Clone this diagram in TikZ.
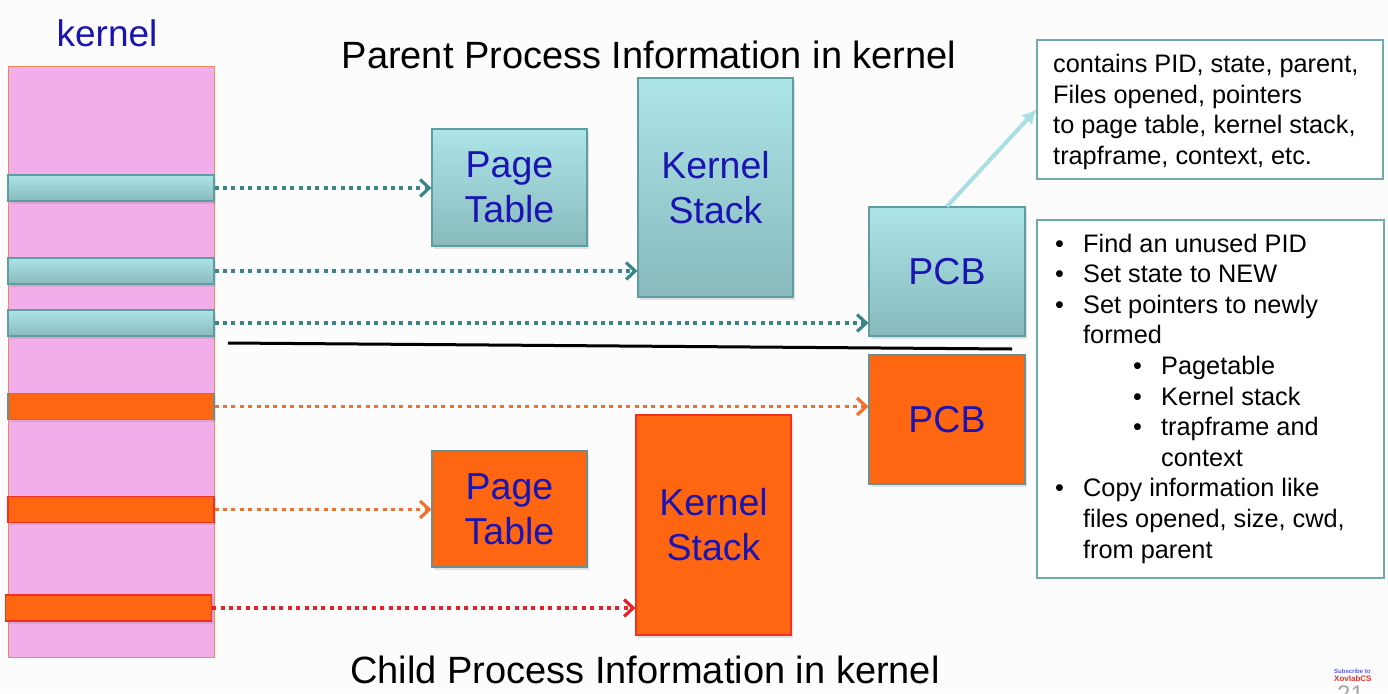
\documentclass[tikz,border=0pt]{standalone}
\usepackage{fontspec}
\setmainfont{Liberation Sans}
\usetikzlibrary{arrows.meta,shadows}
\definecolor{bg}{HTML}{FBFCFB}
\definecolor{pinkk}{HTML}{F2AEEA}
\definecolor{pinkedge}{HTML}{EE8A5A}
\definecolor{tealtop}{HTML}{ACE4E8}
\definecolor{tealbot}{HTML}{88BABD}
\definecolor{tealedge}{HTML}{5E9EA2}
\definecolor{tealarrow}{HTML}{3A8588}
\definecolor{orangef}{HTML}{FF6612}
\definecolor{orangearrow}{HTML}{F4702A}
\definecolor{redarrow}{HTML}{E62228}
\definecolor{rededge}{HTML}{F03020}
\definecolor{grayedge}{HTML}{6E8E8C}
\definecolor{labelblue}{HTML}{1A14B0}
\definecolor{lightteal}{HTML}{A8DFE2}
\definecolor{boxedge}{HTML}{6FAAAE}
\definecolor{wmblue}{HTML}{5A5AF0}
\definecolor{wmred}{HTML}{F03030}
\newcommand{\blt}{\makebox[28pt][l]{\textbullet}}
\tikzset{
  shad/.style={drop shadow={opacity=0.22, shadow xshift=2pt, shadow yshift=-2.5pt}},
  tealbox/.style={draw=tealedge, line width=1.2pt, top color=tealtop, bottom color=tealbot,
    text=labelblue, font=\fontsize{37.5}{45}\selectfont, align=center, inner sep=0, shad},
  orangebox/.style={draw=#1, line width=1.2pt, fill=orangef,
    text=labelblue, font=\fontsize{37.5}{45}\selectfont, align=center, inner sep=0, shad},
  tealbar/.style={draw=tealedge, line width=1.2pt, top color=tealtop, bottom color=tealbot,
    minimum width=206pt, minimum height=26pt, inner sep=0, shad},
  orangebar/.style={draw=#1, line width=1.2pt, fill=orangef,
    minimum width=206pt, minimum height=26pt, inner sep=0, shad},
  dots/.style={line width=3.6pt, dash pattern=on 4pt off 4.4pt,
    -{Straight Barb[length=9pt, width=17pt, line width=3.2pt]}},
  infobox/.style={draw=boxedge, line width=1.3pt, fill=white, inner sep=0},
  infotext/.style={anchor=north west, align=left, inner sep=0, text=black,
    font=\fontsize{25.3}{30.6}\selectfont},
  title/.style={anchor=base, text=black, font=\fontsize{38}{44}\selectfont, inner sep=0}
}
\begin{document}
\begin{tikzpicture}[x=1pt, y=-1pt]
\fill[bg] (0,0) rectangle (1388,693);
\useasboundingbox (0,0) rectangle (1388,693);

% kernel column
\node[anchor=base, text=labelblue, font=\fontsize{37}{44}\selectfont, inner sep=0] (klabel) at (107,47) {kernel};
\node[draw=pinkedge, line width=1pt, fill=pinkk, minimum width=206pt, minimum height=591pt, inner sep=0] (kern) at (111,361.5) {};

% bars
\node[tealbar] (b1) at (111,188) {};
\node[tealbar] (b2) at (111,271) {};
\node[tealbar] (b3) at (111,323) {};
\node[orangebar=grayedge] (b4) at (111,406.5) {};
\node[orangebar=rededge] (b5) at (111,509.5) {};
\node[orangebar=rededge] (b6) at (108.5,608) {};

% titles
\node[title] (ptitle) at (649,68) {Parent Process Information in kernel};
\node[title] (ctitle) at (645,683) {Child Process Information in kernel};

% parent boxes
\node[tealbox, minimum width=155pt, minimum height=117pt] (ppt) at (509.5,187.5) {Page\\Table};
\node[tealbox, minimum width=155pt, minimum height=219pt] (pks) at (715.5,187.5) {Kernel\\Stack};
\node[tealbox, minimum width=156pt, minimum height=129pt] (ppcb) at (947,271.5) {PCB};

% separator
\coordinate (sepL) at (228,343);
\coordinate (sepR) at (1012,349);
\draw[black, line width=3pt] (sepL) -- (sepR);

% child boxes
\node[orangebox=grayedge, minimum width=156pt, minimum height=129pt] (cpcb) at (947,419.5) {PCB};
\node[orangebox=grayedge, minimum width=155pt, minimum height=116pt] (cpt) at (509.5,509) {Page\\Table};
\node[orangebox=rededge, minimum width=155pt, minimum height=220pt] (cks) at (713.5,525) {Kernel\\Stack};

% dotted arrows
\draw[dots, tealarrow] (b1.east) -- (b1.east -| ppt.west);
\draw[dots, tealarrow] (b2.east) -- (b2.east -| pks.west);
\draw[dots, tealarrow] (b3.east) -- (b3.east -| ppcb.west);
\draw[dots, orangearrow] (b4.east) -- (b4.east -| cpcb.west);
\draw[dots, orangearrow] (b5.east) -- (b5.east -| cpt.west);
\draw[dots, redarrow] (b6.east) -- (b6.east -| cks.west);

% info boxes
\node[infobox, minimum width=346pt, minimum height=139pt] (info1) at (1210,109.5) {};
\node[infotext] (info1t) at (1053,53.9) {contains PID, state, parent,\\Files opened, pointers\\to page table, kernel stack,\\trapframe, context, etc.};

\node[infobox, minimum width=347pt, minimum height=358pt] (info2) at (1210.5,399) {};
\node[infotext] (info2t) at (1055,233.6) {\blt Find an unused PID\\
\blt Set state to NEW\\
\blt Set pointers to newly\\
\hspace*{28pt}formed\\
\hspace*{78pt}\blt Pagetable\\
\hspace*{78pt}\blt Kernel stack\\
\hspace*{78pt}\blt trapframe and\\
\hspace*{106pt}context\\
\blt Copy information like\\
\hspace*{28pt}files opened, size, cwd,\\
\hspace*{28pt}from parent};

% PCB to info connector
\draw[lightteal, line width=4pt, -{Latex[length=14pt, width=15pt]}] (ppcb.north) -- (info1.west);

% watermark
\node[anchor=base west, inner sep=0, text=wmblue, font=\fontsize{6}{7}\selectfont\bfseries] (wm1) at (1334,673) {Subscribe to};
\node[anchor=base west, inner sep=0, text=wmred, font=\fontsize{8}{9}\selectfont\bfseries] (wm2) at (1334,681) {XovlabCS};
\node[anchor=north west, inner sep=0, text=gray!70, font=\fontsize{24}{28}\selectfont] (wm3) at (1337,686) {21};
\end{tikzpicture}
\end{document}
